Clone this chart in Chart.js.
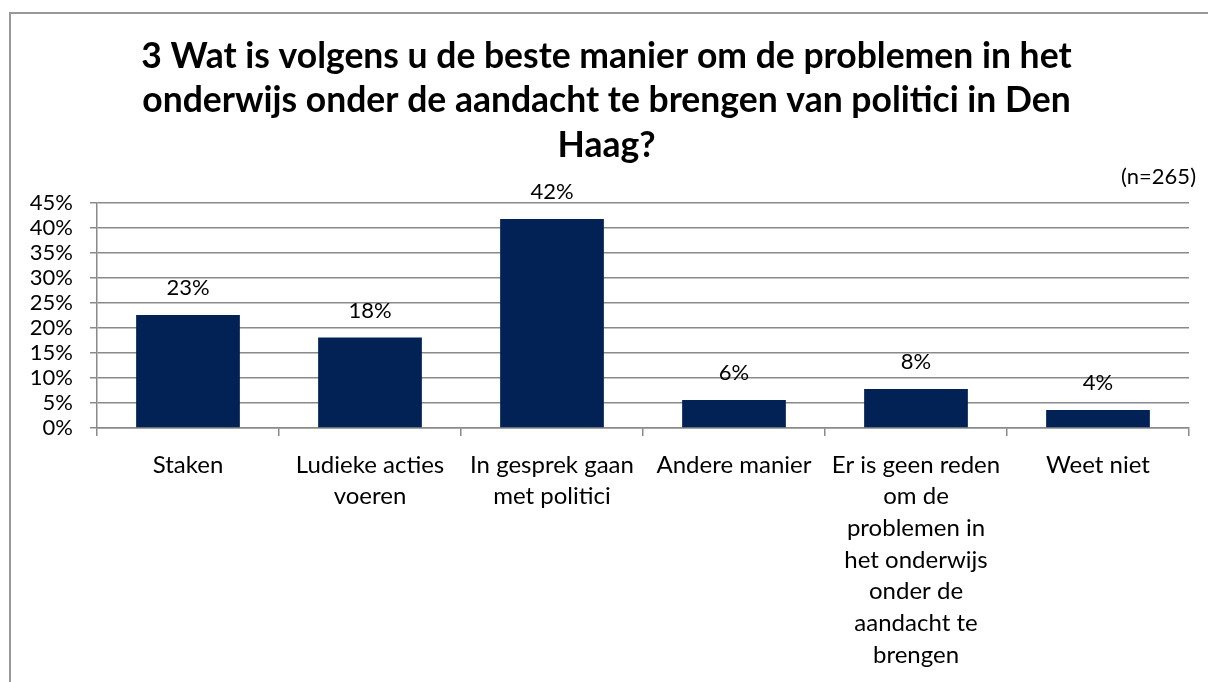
<!DOCTYPE html>
<html>
<head>
<meta charset="utf-8">
<script src="https://cdn.jsdelivr.net/npm/chart.js@4.4.0/dist/chart.umd.min.js"></script>
<style>
  html, body { margin: 0; padding: 0; background: #fff; }
  #wrap { position: relative; width: 1208px; height: 682px; overflow: hidden; }
  #frame { position: absolute; left: 9px; top: 12px; width: 1300px; height: 800px; border: 2px solid #999; box-sizing: border-box; }
  #c { position: absolute; left: 0; top: 0; }
</style>
</head>
<body>
<div id="wrap">
  <div id="frame"></div>
  <canvas id="c" width="1208" height="682"></canvas>
</div>
<script>
// gegevens uit de grafiek
const categories = [
    'Staken',
    ['Ludieke acties', 'voeren'],
    ['In gesprek gaan', 'met politici'],
    'Andere manier',
    ['Er is geen reden', 'om de', 'problemen in', 'het onderwijs', 'onder de', 'aandacht te', 'brengen'],
    'Weet niet'
];
const percentages = [22.6, 18.1, 41.8, 5.6, 7.8, 3.6];
const titleLines = [
    '3 Wat is volgens u de beste manier om de problemen in het',
    'onderwijs onder de aandacht te brengen van politici in Den',
    'Haag?'
];
const sampleNote = '(n=265)';

const FONT = 'Lato';
const gridColor = '#8a8a8a';

// percentages boven de staven + (n=265)
const labelPlugin = {
    id: 'barLabels',
    afterDatasetsDraw(chart) {
        const ctx = chart.ctx;
        const meta = chart.getDatasetMeta(0);
        ctx.save();
        ctx.font = `22px ${FONT}`;
        ctx.fillStyle = '#000';
        ctx.textAlign = 'center';
        ctx.textBaseline = 'middle';
        meta.data.forEach((bar, i) => {
            ctx.fillText(Math.round(percentages[i]) + '%', bar.x, bar.y - 27);
        });
        ctx.textAlign = 'right';
        ctx.fillText(sampleNote, 1196, 177);
        ctx.restore();
    }
};

new Chart(document.getElementById('c'), {
    type: 'bar',
    data: {
        labels: categories,
        datasets: [{
            data: percentages,
            backgroundColor: '#022256',
            borderWidth: 0,
            categoryPercentage: 1,
            barPercentage: 0.57
        }]
    },
    options: {
        responsive: false,
        animation: false,
        // beetje ruimte links zodat de titel iets rechts van het midden staat
        layout: { padding: { left: 24, right: 19, top: 0, bottom: 0 } },
        plugins: {
            legend: { display: false },
            tooltip: { enabled: false },
            title: {
                display: true,
                text: titleLines,
                color: '#000',
                font: { family: FONT, size: 35.5, weight: 'bold', lineHeight: 1.24 },
                padding: { top: 35, bottom: 36 }
            }
        },
        scales: {
            x: {
                grid: { display: true, drawOnChartArea: false, color: gridColor, lineWidth: 1.5, tickLength: 8 },
                border: { color: gridColor, width: 1.5 },
                ticks: {
                    color: '#000',
                    font: { family: FONT, size: 24, lineHeight: 1.32 },
                    maxRotation: 0,
                    autoSkip: false,
                    padding: 13
                },
                afterFit(scale) { scale.height = 254; }
            },
            y: {
                min: 0,
                max: 45,
                grid: { color: gridColor, lineWidth: 1.5, tickLength: 7 },
                border: { color: gridColor, width: 1.5 },
                ticks: {
                    stepSize: 5,
                    autoSkip: false,
                    color: '#000',
                    font: { family: FONT, size: 22 },
                    padding: 17,
                    callback: v => v + '%'
                },
                afterFit(scale) { scale.width = 73; }
            }
        }
    },
    plugins: [labelPlugin]
});
</script>
</body>
</html>
